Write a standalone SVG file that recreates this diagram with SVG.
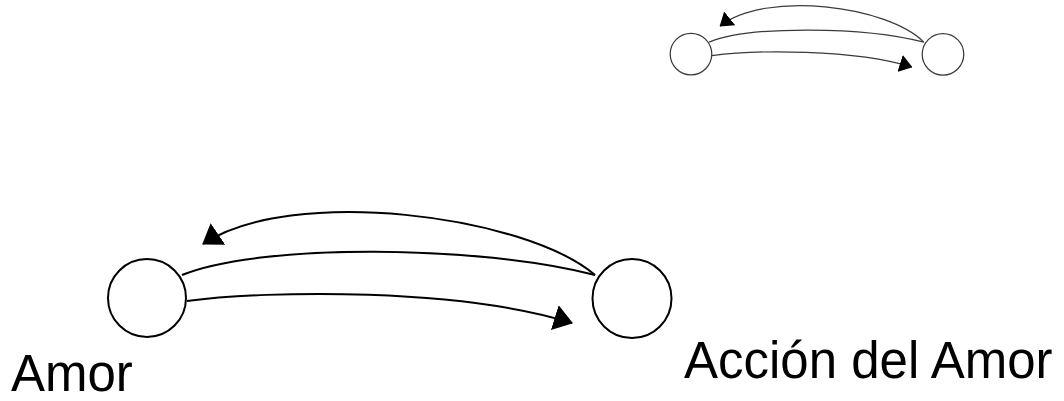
<svg xmlns="http://www.w3.org/2000/svg" width="1064" height="401" viewBox="0 0 1064 401">
  <style>
    .node { fill: #ffffff; stroke: #000000; stroke-width: 2; }
    .edge { fill: none; stroke: #000000; stroke-width: 2; }
    .small .node, .small .edge { stroke: #3a3a3a; stroke-width: 2.4; }
    .label { font-family: "Liberation Sans", Arial, sans-serif; font-size: 51px; fill: #000000; }
  </style>
  <defs>
    <marker id="arrow" markerUnits="userSpaceOnUse" viewBox="0 0 19 26" markerWidth="19" markerHeight="26" refX="18" refY="13" orient="auto">
      <path d="M0,0 L19,13 L0,26 Z" fill="#000000"/>
    </marker>
    <marker id="arrow-small" markerUnits="userSpaceOnUse" viewBox="0 0 19 26" markerWidth="25" markerHeight="34" refX="18" refY="13" orient="auto">
      <path d="M0,0 L19,13 L0,26 Z" fill="#000000"/>
    </marker>
  </defs>
  <rect width="1064" height="401" fill="#ffffff"/>

  <g id="large-diagram">
    <g id="connectors">
      <path class="edge" d="M595,275 C525,215 290,185 203,244" marker-end="url(#arrow)"/>
      <path class="edge" d="M182,275 C260,243 480,245 595,275"/>
      <path class="edge" d="M187,301 C270,290 460,288 572,323" marker-end="url(#arrow)"/>
    </g>
    <g id="node-amor">
      <circle class="node" cx="147" cy="298" r="39"/>
      <text class="label" x="11" y="391">Amor</text>
    </g>
    <g id="node-accion-del-amor">
      <circle class="node" cx="632" cy="298.5" r="39.5"/>
      <text class="label" x="684" y="378">Acción del Amor</text>
    </g>
  </g>

  <g id="small-diagram" class="small" transform="translate(614.6,-100.8) scale(0.5196)">
    <g id="small-connectors">
      <path class="edge" d="M595,275 C525,205 290,175 203,244" marker-end="url(#arrow-small)"/>
      <path class="edge" d="M182,275 C260,243 480,245 595,275"/>
      <path class="edge" d="M187,301 C270,290 460,288 572,323" marker-end="url(#arrow-small)"/>
    </g>
    <g id="small-node-left">
      <circle class="node" cx="147" cy="298" r="40"/>
    </g>
    <g id="small-node-right">
      <circle class="node" cx="632" cy="298.5" r="40"/>
    </g>
  </g>
</svg>
